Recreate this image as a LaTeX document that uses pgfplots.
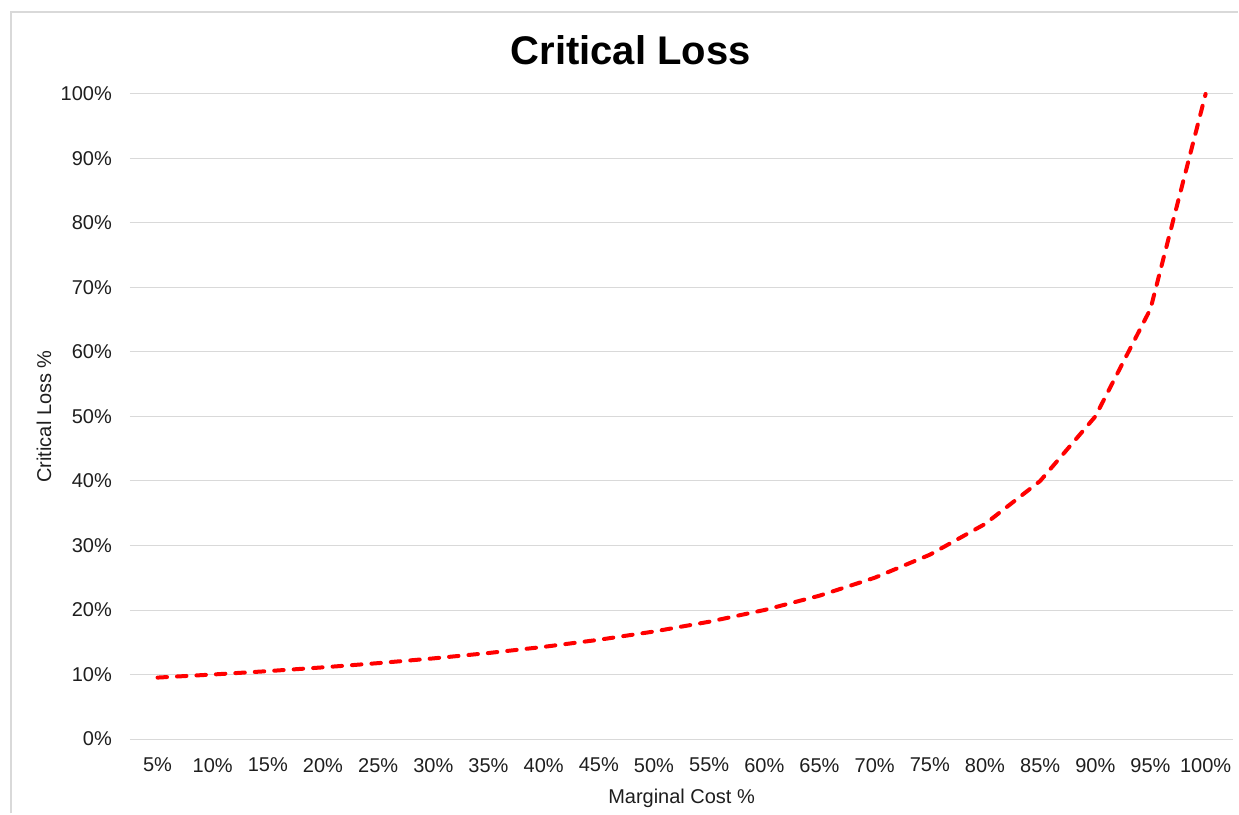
\documentclass[border=0pt]{standalone}
\usepackage{pgfplots}
\pgfplotsset{compat=1.18}
\usepackage{fontspec}
\setmainfont{Liberation Sans}
\definecolor{txt}{RGB}{30,30,30}
\definecolor{gridgray}{RGB}{217,217,217}
\definecolor{lred}{RGB}{255,0,0}
\begin{document}
\begin{tikzpicture}
\path (0,0) rectangle (619.5pt,407pt);
\draw[gridgray, line width=0.8pt] (5.5pt,0) -- (5.5pt,401pt) -- (619.5pt,401pt);
\node[black, font=\fontsize{20}{24}\selectfont\bfseries] at (315.5pt,382pt) {Critical Loss};
\begin{axis}[
  at={(65pt,37.25pt)}, anchor=south west,
  scale only axis, width=552pt, height=322.75pt,
  xmin=-0.5, xmax=19.5, ymin=0, ymax=100,
  xtick={0,...,19},
  xticklabels={5\%,10\%,15\%,20\%,25\%,30\%,35\%,40\%,45\%,50\%,55\%,60\%,65\%,70\%,75\%,80\%,85\%,90\%,95\%,100\%},
  ytick={0,10,...,100},
  yticklabels={0\%,10\%,20\%,30\%,40\%,50\%,60\%,70\%,80\%,90\%,100\%},
  /pgf/number format/assume math mode=true,
  tick style={draw=none},
  axis line style={draw=none},
  xmajorgrids=false,
  ymajorgrids=true,
  major grid style={draw=gridgray, line width=0.5pt},
  tick label style={txt, font=\fontsize{10}{12}\selectfont},
  yticklabel style={xshift=-5.5pt},
  xticklabel style={yshift=-6pt},
  xlabel={Marginal Cost \%}, ylabel={Critical Loss \%},
  label style={txt, font=\fontsize{10}{12}\selectfont},
  xlabel style={at={(0.5,0)}, anchor=center, yshift=-29.5pt},
  ylabel style={at={(0,0.5)}, anchor=center, rotate=0, yshift=43pt},
  clip=false,
]
\addplot[lred, line width=2pt, line cap=round, dash pattern=on 4.75pt off 5pt] coordinates {
(0,9.524) (1,10) (2,10.526) (3,11.111) (4,11.765) (5,12.5) (6,13.333) (7,14.286) (8,15.385) (9,16.667)
(10,18.182) (11,20) (12,22.222) (13,25) (14,28.571) (15,33.333) (16,40) (17,50) (18,66.667) (19,100)
};
\end{axis}
\end{tikzpicture}
\end{document}
